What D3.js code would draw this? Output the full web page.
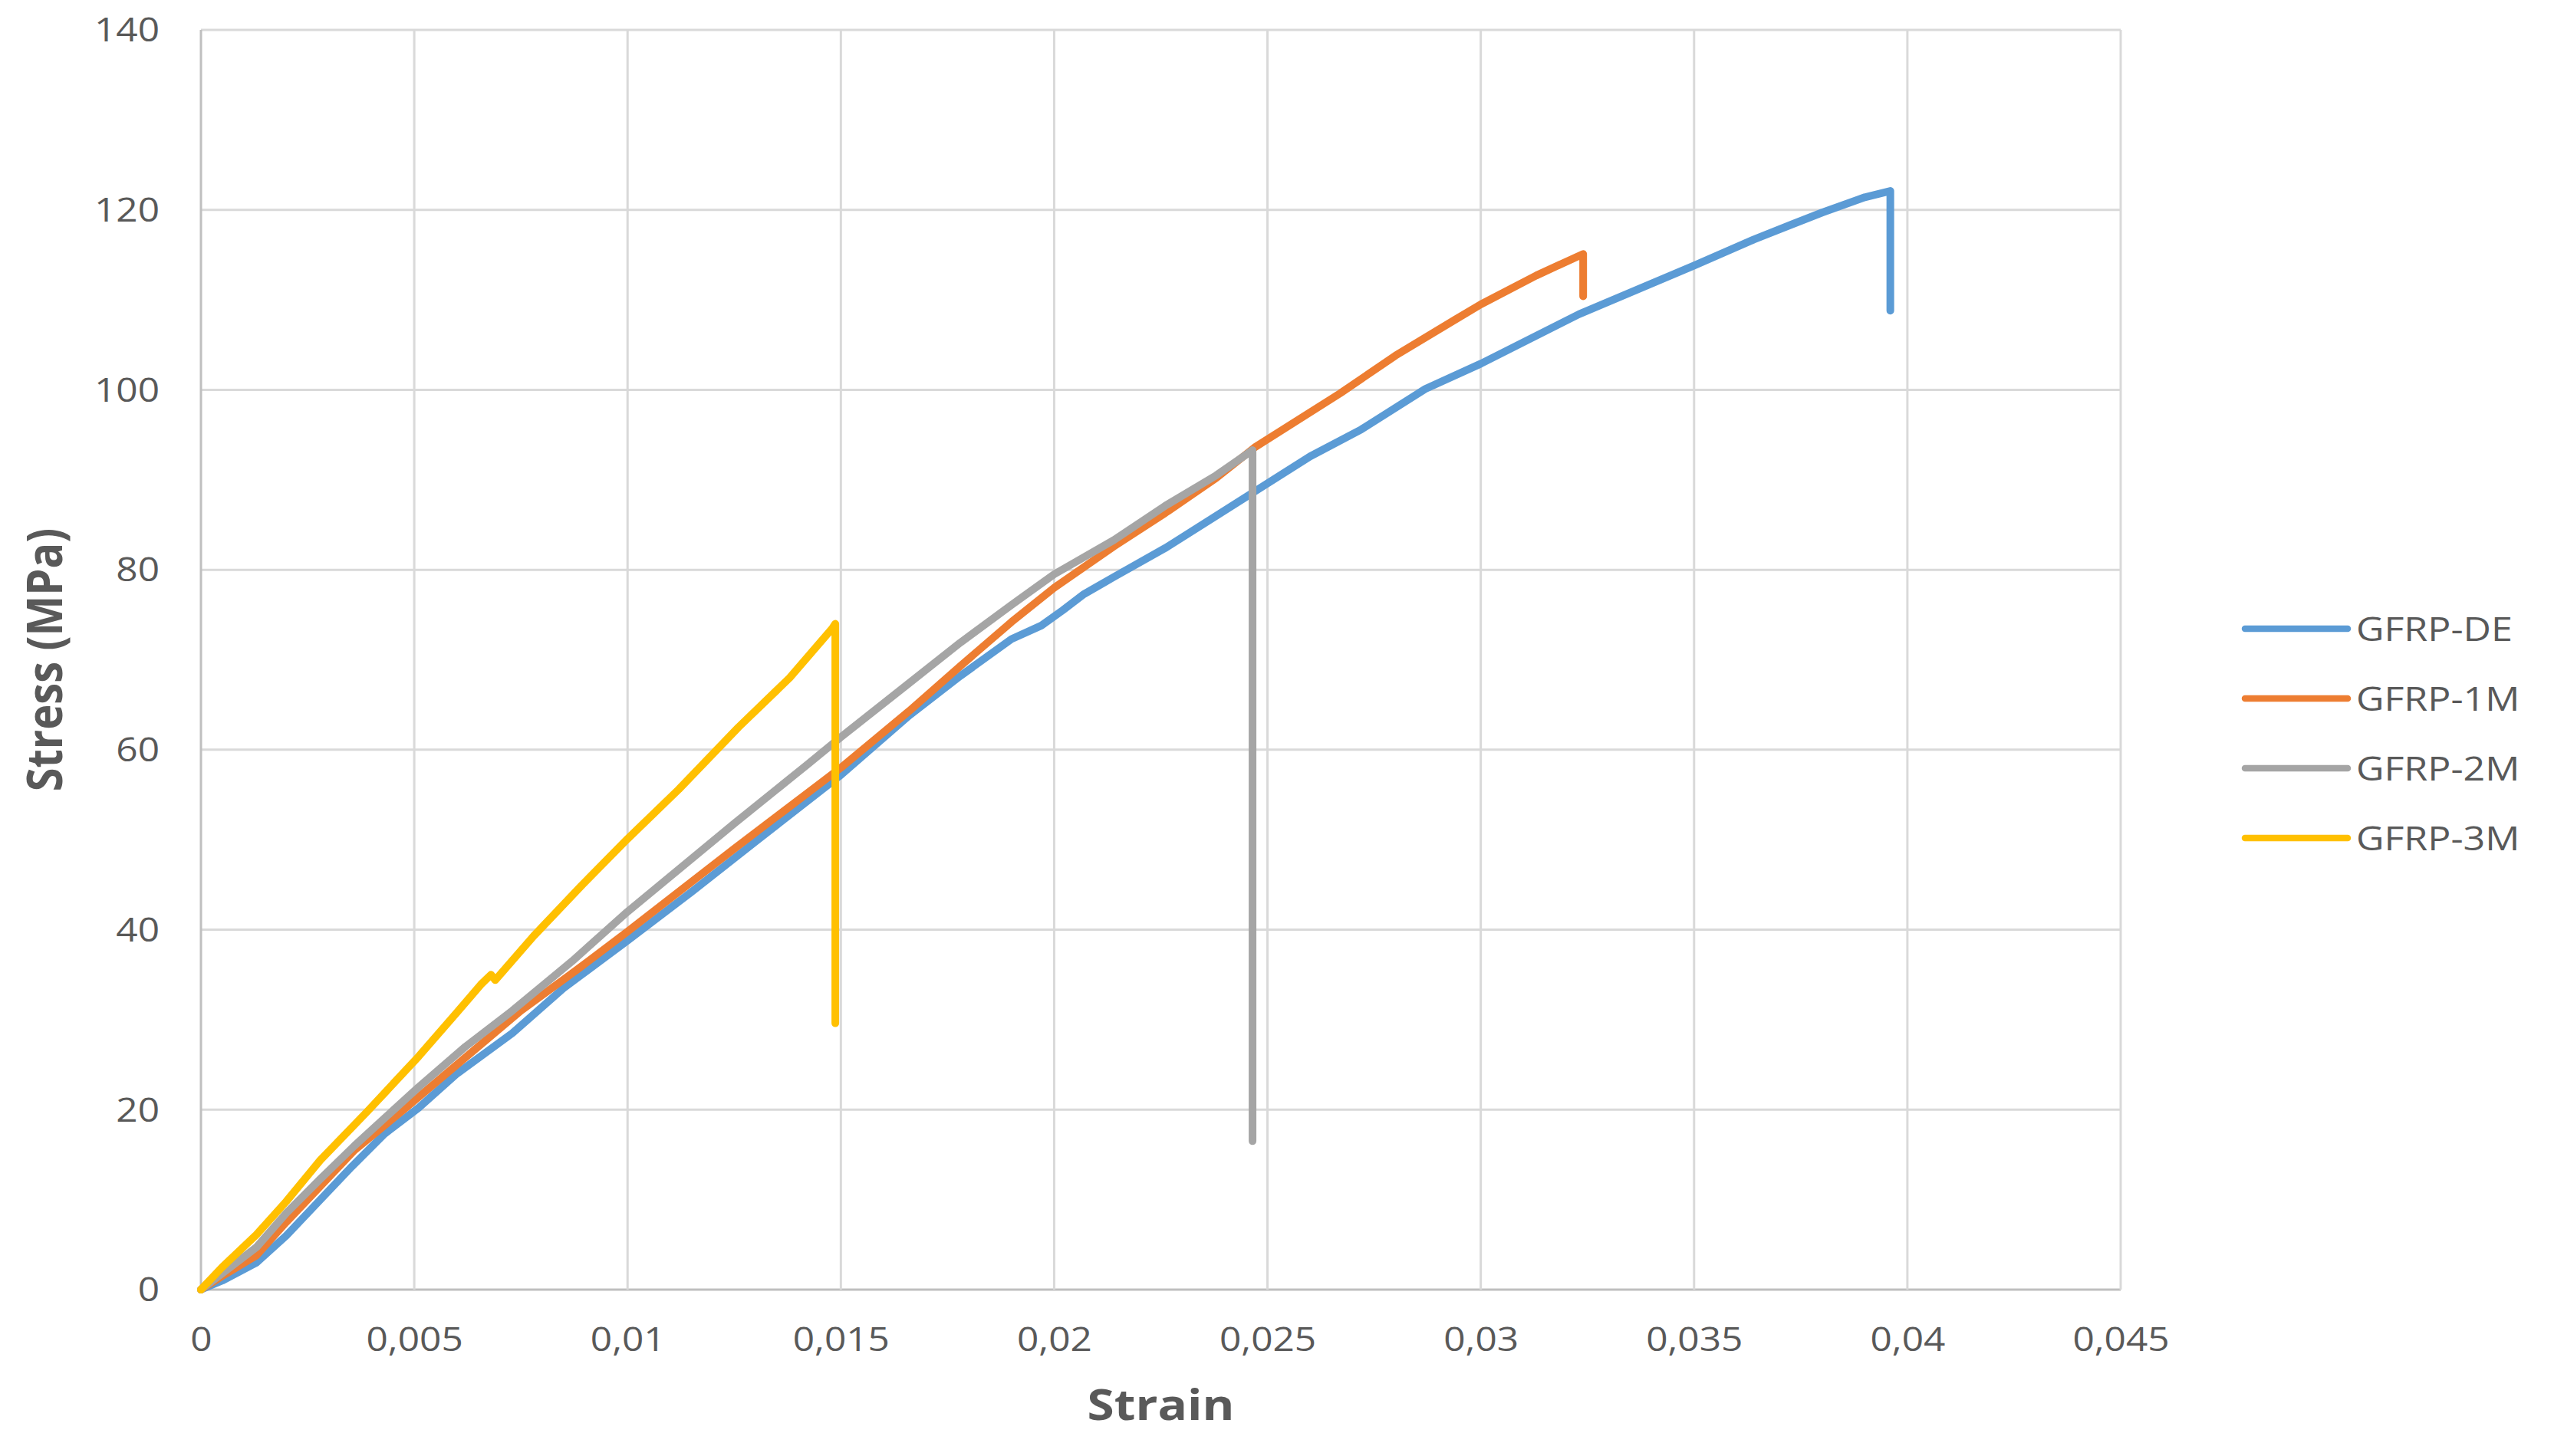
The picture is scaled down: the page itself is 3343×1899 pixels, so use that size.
<!DOCTYPE html>
<html>
<head>
<meta charset="utf-8">
<script src="https://cdn.jsdelivr.net/npm/d3@7"></script>
<style>
  html, body { margin: 0; padding: 0; background: #fff; }
  svg { display: block; }
</style>
</head>
<body>
<svg id="chart" width="3343" height="1899"></svg>
<script>
// stress-strain curves: [strain, stress MPa]
const gfrpDE = [
  [0, 0], [0.0005, 1.0], [0.0013, 3.0], [0.002, 6.0], [0.0028, 10.0], [0.0035, 13.5],
  [0.0043, 17.3], [0.0051, 20.2], [0.006, 24.0], [0.0073, 28.5], [0.0085, 33.5],
  [0.01, 38.8], [0.0115, 44.2], [0.013, 49.8], [0.015, 57.2], [0.0166, 63.8],
  [0.0178, 68.2], [0.019, 72.3], [0.0197, 73.8], [0.0202, 75.5], [0.0207, 77.3],
  [0.0214, 79.2], [0.0226, 82.4], [0.0238, 86.0], [0.0248, 89.0], [0.026, 92.6],
  [0.0272, 95.6], [0.0287, 100.1], [0.03, 102.9], [0.0323, 108.4], [0.035, 113.8],
  [0.0364, 116.7], [0.0373, 118.4], [0.038, 119.7], [0.039, 121.4], [0.0396, 122.1],
  [0.0396, 108.8]
]
const gfrp1M = [
  [0, 0], [0.0005, 1.5], [0.0013, 3.8], [0.002, 7.5], [0.0028, 11.5], [0.0036, 15.5],
  [0.00475, 20.0], [0.006, 25.0], [0.0075, 31.0], [0.0088, 35.5], [0.01, 39.8],
  [0.0125, 49.0], [0.015, 58.0], [0.0166, 64.3], [0.0178, 69.3], [0.019, 74.2],
  [0.02, 78.0], [0.0214, 82.6], [0.0226, 86.3], [0.0238, 90.2], [0.0247, 93.6],
  [0.0267, 99.6], [0.028, 103.8], [0.0294, 107.8], [0.03, 109.5], [0.0313, 112.7],
  [0.0324, 115.1], [0.0324, 110.4]
]
const gfrp2M = [
  [0, 0], [0.0005, 1.8], [0.0013, 4.7], [0.002, 8.5], [0.0028, 12.3], [0.0036, 16.0],
  [0.0051, 22.5], [0.0062, 27.0], [0.0073, 31.0], [0.0087, 36.5], [0.01, 42.0],
  [0.0125, 51.8], [0.0142, 58.3], [0.015, 61.4], [0.0166, 67.4], [0.0178, 71.9],
  [0.019, 76.1], [0.02, 79.5], [0.0214, 83.3], [0.0226, 87.1], [0.0238, 90.5],
  [0.02465, 93.3], [0.02465, 16.5]
]
const gfrp3M = [
  [0, 0], [0.0005, 2.5], [0.0013, 6.1], [0.002, 9.8], [0.0028, 14.4], [0.0039, 19.8],
  [0.0051, 25.9], [0.006, 30.8], [0.00656, 33.9], [0.0068, 35.0], [0.0069, 34.4],
  [0.0078, 39.3], [0.0089, 44.8], [0.01, 50.1], [0.0112, 55.6], [0.0126, 62.5],
  [0.0138, 68.0], [0.0148, 73.5], [0.01487, 74.0], [0.01487, 29.6]
]

const seriesNames = ['GFRP-DE', 'GFRP-1M', 'GFRP-2M', 'GFRP-3M']
const seriesColors = ['#5B9BD5', '#ED7D31', '#A5A5A5', '#FFC000']

const xTicks = [0, 0.005, 0.01, 0.015, 0.02, 0.025, 0.03, 0.035, 0.04, 0.045]
const xTickLabels = ['0', '0,005', '0,01', '0,015', '0,02', '0,025', '0,03', '0,035', '0,04', '0,045']
const yTicks = [0, 20, 40, 60, 80, 100, 120, 140]

const svg = d3.select('#chart')
const font = "'Open Sans', 'Noto Sans', sans-serif"
// the source picture is a bit stretched sideways, text too
const sx = 1.14

let x = d3.scaleLinear().domain([0, 0.045]).range([262, 2765])
let y = d3.scaleLinear().domain([0, 140]).range([1682, 39])

svg.append('rect').attr('width', 3343).attr('height', 1899).attr('fill', '#fff')

// grid
let grid = svg.append('g').attr('class', 'grid')
grid.selectAll('.hgrid')
  .data(yTicks)
  .enter()
  .append('line')
  .attr('x1', x(0)).attr('x2', x(0.045))
  .attr('y1', d => y(d)).attr('y2', d => y(d))
  .attr('stroke', d => (d === 0 ? '#BFBFBF' : '#D9D9D9'))
  .attr('stroke-width', 3)
grid.selectAll('.vgrid')
  .data(xTicks)
  .enter()
  .append('line')
  .attr('y1', y(0)).attr('y2', y(140))
  .attr('x1', d => x(d)).attr('x2', d => x(d))
  .attr('stroke', d => (d === 0 ? '#BFBFBF' : '#D9D9D9'))
  .attr('stroke-width', 3)

// axes (labels only, lines come from grid)
let xAxis = svg.append('g')
  .attr('transform', 'translate(0,' + y(0) + ')')
  .call(d3.axisBottom(x).tickValues(xTicks).tickSize(0).tickPadding(49)
    .tickFormat((d, i) => xTickLabels[i]))
let yAxis = svg.append('g')
  .attr('transform', 'translate(' + x(0) + ',0)')
  .call(d3.axisLeft(y).tickValues(yTicks).tickSize(0))
;[xAxis, yAxis].forEach(a => {
  a.select('.domain').remove()
  a.selectAll('text')
    .style('font-family', font)
    .style('font-size', '43.5px')
    .attr('fill', '#595959')
    .attr('transform', 'scale(' + sx + ',1)')
})
yAxis.selectAll('text').attr('x', -54 / sx).attr('dy', '0.34em')

// series
let line = d3.line()
  .x(d => x(d[0]))
  .y(d => y(d[1]))
let allSeries = [gfrpDE, gfrp1M, gfrp2M, gfrp3M]
svg.append('g')
  .selectAll('path')
  .data(allSeries)
  .enter()
  .append('path')
  .attr('d', d => line(d))
  .attr('fill', 'none')
  .attr('stroke', (d, i) => seriesColors[i])
  .attr('stroke-width', 10)
  .attr('stroke-linejoin', 'round')
  .attr('stroke-linecap', 'round')

// axis titles
svg.append('text')
  .attr('transform', 'translate(' + (x(0) + x(0.045)) / 2 + ',1852) scale(' + sx + ',1)')
  .attr('text-anchor', 'middle')
  .style('font-family', font)
  .style('font-size', '56px')
  .style('font-weight', 'bold')
  .attr('fill', '#595959')
  .text('Strain')
svg.append('text')
  .attr('transform', 'translate(81,' + (y(0) + y(140)) / 2 + ') scale(' + sx + ',1) rotate(-90)')
  .attr('text-anchor', 'middle')
  .style('font-family', font)
  .style('font-size', '56px')
  .style('font-weight', 'bold')
  .attr('fill', '#595959')
  .text('Stress (MPa)')

// legend
let legend = svg.append('g')
  .selectAll('g')
  .data(seriesNames)
  .enter()
  .append('g')
  .attr('transform', (d, i) => 'translate(2927,' + (820 + i * 91) + ')')
legend.append('line')
  .attr('x1', 0).attr('x2', 134)
  .attr('stroke', (d, i) => seriesColors[i])
  .attr('stroke-width', 8.5)
  .attr('stroke-linecap', 'round')
legend.append('text')
  .attr('transform', 'translate(145,0) scale(' + sx + ',1)')
  .attr('dy', '0.36em')
  .style('font-family', font)
  .style('font-size', '44px')
  .attr('fill', '#595959')
  .text(d => d)
</script>
</body>
</html>
